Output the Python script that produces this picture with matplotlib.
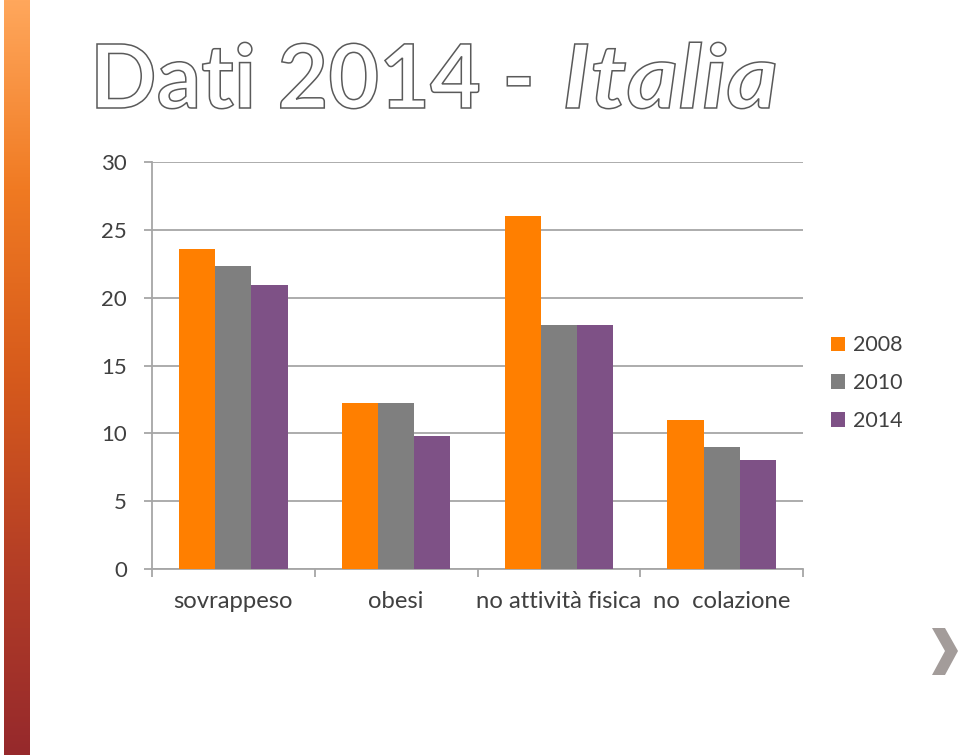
import matplotlib
matplotlib.use("Agg")
import matplotlib.pyplot as plt
from matplotlib.patches import Polygon, Patch, PathPatch
from matplotlib.textpath import TextPath
from matplotlib.font_manager import FontProperties
from matplotlib.path import Path
from matplotlib.colors import LinearSegmentedColormap
import numpy as np

categories = ["sovrappeso", "obesi", "no attività fisica", "no  colazione"]
years = ["2008", "2010", "2014"]
v2008 = [23.6, 12.2, 26.0, 11.0]
v2010 = [22.3, 12.2, 18.0, 9.0]
v2014 = [20.9, 9.8, 18.0, 8.0]
yticks = [0, 5, 10, 15, 20, 25, 30]
colors = ["#FF7F00", "#7F7F7F", "#7E5186"]
title_main = "Dati 2014 -"
title_it = "Italia"

W, H = 960, 755
fig = plt.figure(figsize=(W / 100, H / 100), dpi=100)
fig.patch.set_facecolor("white")

# left gradient bar
gax = fig.add_axes([4 / W, 0, 26 / W, 1])
grad = np.linspace(0, 1, 256).reshape(-1, 1)
cmap = LinearSegmentedColormap.from_list("g", ["#FFA75C", "#F07A22", "#D65A1C", "#B43E26", "#96292C"])
gax.imshow(grad, aspect="auto", cmap=cmap, extent=[0, 1, 1, 0])
gax.set_axis_off()

# main axes
left, right, top, bottom = 152, 803, 162, 569
ax = fig.add_axes([left / W, (H - bottom) / H, (right - left) / W, (bottom - top) / H])
x = np.arange(len(categories))
bw = 1 / 4.5
series = [v2008, v2010, v2014]
for i, (vals, c, lab) in enumerate(zip(series, colors, years)):
    ax.bar(x + (i - 1) * bw, vals, width=bw, color=c, label=lab, zorder=3)

txtc = "#404040"
ax.set_xlim(-0.5, len(categories) - 0.5)
ax.set_ylim(0, 30)
ax.set_yticks(yticks)
ax.set_yticklabels([str(t) for t in yticks], fontsize=16, family="Lato", color=txtc)
ax.yaxis.grid(True, color="#A6A6A6", linewidth=1.3, zorder=0)
ax.set_axisbelow(True)
for s in ["top", "right"]:
    ax.spines[s].set_visible(False)
for s in ["left", "bottom"]:
    ax.spines[s].set_color("#A6A6A6")
    ax.spines[s].set_linewidth(1.3)
ax.tick_params(axis="y", length=6, width=1.3, color="#A6A6A6", pad=12)
ax.set_xticks(x)
ax.set_xticklabels(categories, fontsize=17.2, family="Lato", color=txtc)
ax.tick_params(axis="x", which="major", length=0, pad=16)
ax.set_xticks(np.arange(-0.5, len(categories)), minor=True)
ax.tick_params(axis="x", which="minor", length=6, width=1.3, color="#A6A6A6")

handles = [Patch(facecolor=c, label=y) for c, y in zip(colors, years)]
leg = fig.legend(handles=handles, loc="upper left", bbox_to_anchor=(812 / W, 1 - 316 / H),
                 frameon=False, prop={"family": "Lato", "size": 15.5},
                 handlelength=0.65, handleheight=0.65, handletextpad=0.35, labelspacing=0.83,
                 labelcolor=txtc)

# title as outlined text paths, fitted to the reference box
ovl = fig.add_axes([0, 0, 1, 1], zorder=5)
ovl.set_xlim(0, W)
ovl.set_ylim(H, 0)
ovl.set_axis_off()
fp_n = FontProperties(family="Lato", weight="bold")
fp_i = FontProperties(family="Lato", weight="bold", style="italic")
p1 = TextPath((0, 0), title_main, size=100, prop=fp_n)
p2 = TextPath((0, 0), title_it, size=100, prop=fp_i)
cap = TextPath((0, 0), "D", size=100, prop=fp_n).get_extents().height
e1 = p1.get_extents()
e2 = p2.get_extents()
x0, x1, x2, x3 = 97, 530, 566, 775
base, captop = 108, 44
sy = (base - captop) / cap
sx1 = (x1 - x0) / e1.width
sx2 = (x3 - x2) / e2.width

def place(path, ext, sx, xs):
    v = path.vertices.copy()
    v[:, 0] = xs + (v[:, 0] - ext.x0) * sx
    v[:, 1] = base - v[:, 1] * sy
    return Path(v, path.codes)

for pth in (place(p1, e1, sx1, x0), place(p2, e2, sx2, x2)):
    ovl.add_patch(PathPatch(pth, facecolor="white", edgecolor="#5A5A5A", linewidth=1.1))

# chevron
pts = [(932, 628), (945, 628), (958, 651), (945, 675), (932, 675), (945, 651)]
ovl.add_patch(Polygon(pts, closed=True, facecolor="#A39C9A", edgecolor="none"))

fig.savefig("out.png", dpi=100)
